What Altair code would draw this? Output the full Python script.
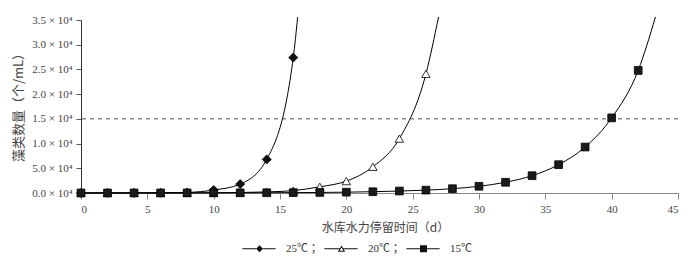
import altair as alt
import pandas as pd

# ---- data ----
series_names = ["25℃", "20℃", "15℃"]

days_25 = [0, 2, 4, 6, 8, 10, 12, 14, 16]
algae_25 = [10, 15, 25, 50, 120, 600, 1800, 6800, 27400]

days_20 = [0, 2, 4, 6, 8, 10, 12, 14, 16, 18, 20, 22, 24, 26]
algae_20 = [10, 10, 12, 15, 25, 50, 100, 220, 480, 1250, 2400, 5300, 11000, 24100]

days_15 = [0, 2, 4, 6, 8, 10, 12, 14, 16, 18, 20, 22, 24, 26, 28, 30, 32, 34, 36, 38, 40, 42]
algae_15 = [10, 10, 12, 15, 20, 25, 35, 50, 75, 110, 170, 260, 400, 580, 870, 1360, 2170,
            3500, 5730, 9300, 15200, 24800]

# where each smoothed curve leaves the top of the plot
curve_end_day = [16.33, 26.95, 43.3]
curve_end_value = [35600, 35600, 35600]

threshold = [15000]

x_ticks = [0, 5, 10, 15, 20, 25, 30, 35, 40, 45]
y_ticks = [0, 5000, 10000, 15000, 20000, 25000, 30000, 35000]
y_tick_labels = ["0.0 × 10⁴", "5.0 × 10⁴", "1.0 × 10⁴", "1.5 × 10⁴",
                 "2.0 × 10⁴", "2.5 × 10⁴", "3.0 × 10⁴", "3.5 × 10⁴"]

x_title = "水库水力停留时间（d）"
y_title = "藻类数量（个/mL）"

# ---- tables ----
rows = []
for name, ds, vs in zip(series_names, [days_25, days_20, days_15], [algae_25, algae_20, algae_15]):
    for d, v in zip(ds, vs):
        rows.append({"series": name, "day": d, "value": v})
points = pd.DataFrame(rows)

curve_rows = list(rows)
for name, d, v in zip(series_names, curve_end_day, curve_end_value):
    curve_rows.append({"series": name, "day": d, "value": v})
curves = pd.DataFrame(curve_rows)

serif = "Liberation Serif, Noto Sans CJK SC"
cjk = "Noto Sans CJK SC"

x_axis = alt.Axis(values=x_ticks, title=x_title, grid=False, tickSize=6,
                  labelPadding=4, labelFont=serif, labelFontSize=11,
                  labelColor="#444", domainColor="#888", tickColor="#888",
                  titleFont=cjk, titleFontSize=12, titleFontWeight="normal",
                  titleColor="#444", titleBaseline="middle", titleY=34, titleX=304)
y_label_expr = "[" + ",".join("'%s'" % s for s in y_tick_labels) + "][round(datum.value/5000)]"
y_axis = alt.Axis(values=y_ticks, title=y_title, grid=False, tickSize=5,
                  labelPadding=4, labelExpr=y_label_expr, labelOverlap=False,
                  labelFont=serif, labelFontSize=11, labelColor="#444",
                  domainColor="#333", tickColor="#555", titleFont=cjk,
                  titleFontSize=13, titleFontWeight="normal", titleColor="#444",
                  titleBaseline="middle", titleX=-63, titleY=84)


def x_enc():
    return alt.X("day:Q", scale=alt.Scale(domain=[0, 45], nice=False), axis=x_axis)


def y_enc():
    return alt.Y("value:Q", scale=alt.Scale(domain=[0, 35000], nice=False), axis=y_axis)


rule = alt.Chart(pd.DataFrame({"value": threshold})).mark_rule(
    color="#888", strokeDash=[4, 4], strokeWidth=1.5
).encode(y=y_enc())

lines = alt.Chart(curves).mark_line(
    color="black", strokeWidth=1, interpolate="monotone", clip=False
).encode(x=x_enc(), y=y_enc(), detail="series:N")

marker_shapes = ["diamond", "triangle-up", "square"]
marker_fills = ["#111111", "#ffffff", "#1a1a1a"]
marker_sizes = [81, 60, 49]

pts = alt.Chart(points).mark_point(filled=True, stroke="black", strokeWidth=0.8, opacity=1).encode(
    x=x_enc(), y=y_enc(),
    shape=alt.Shape("series:N", scale=alt.Scale(domain=series_names, range=marker_shapes), legend=None),
    fill=alt.Fill("series:N", scale=alt.Scale(domain=series_names, range=marker_fills), legend=None),
    size=alt.Size("series:N", scale=alt.Scale(domain=series_names, range=marker_sizes), legend=None),
)

# legend glyphs: line segments + marker, drawn as filled outlines (unit = 3.5 px)
seg_left = "M-4.9,-0.15L-1,-0.15L-1,0.15L-4.9,0.15Z"
seg_right = "M1,-0.15L4.6,-0.15L4.6,0.15L1,0.15Z"
legend_paths = [
    seg_left + "M0,-1L1,0L0,1L-1,0Z" + seg_right,
    "M-4.9,-0.15L-0.5,-0.15L-0.5,0.15L-4.9,0.15Z"
    + "M0,-0.95L1.05,0.85L-1.05,0.85ZM0,-0.37L-0.55,0.56L0.55,0.56Z"
    + "M0.5,-0.15L4.6,-0.15L4.6,0.15L0.5,0.15Z",
    seg_left + "M-1,-1L1,-1L1,1L-1,1Z" + seg_right,
]
legend_props = dict(
    title=None, orient="none", direction="horizontal", legendX=173, legendY=223,
    symbolSize=49, symbolStrokeWidth=0, symbolOpacity=1,
    labelFont=serif, labelFontSize=11, labelColor="#333", labelOffset=21,
    columnPadding=2,
    labelExpr="datum.label == '15℃' ? datum.label : datum.label + ' ；'",
)

legend_layer = alt.Chart(points).transform_filter("false").mark_point(
    filled=True, color="#111111", strokeWidth=0
).encode(
    x=x_enc(), y=y_enc(),
    shape=alt.Shape("series:N", scale=alt.Scale(domain=series_names, range=legend_paths),
                    legend=alt.Legend(**legend_props)),
)

chart = alt.layer(rule, lines, pts, legend_layer).resolve_scale(
    shape="independent", fill="independent", size="independent"
).properties(
    width=597, height=173,
    autosize=alt.AutoSizeParams(type="none"),
    padding={"left": 81, "top": 20, "right": 22, "bottom": 73},
    background="white",
).configure_view(stroke=None)

chart.save("out.html", embed_options={"renderer": "svg", "actions": False})
